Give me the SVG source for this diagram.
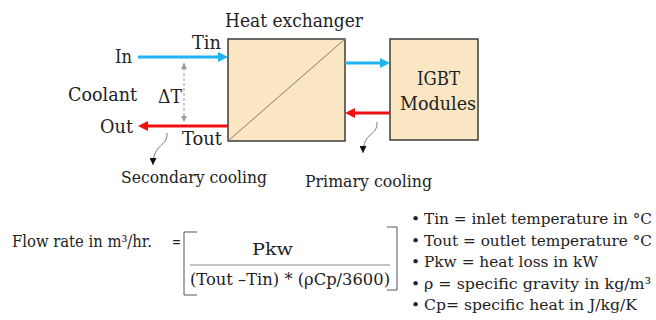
<svg xmlns="http://www.w3.org/2000/svg" width="656" height="320" viewBox="0 0 656 320">
<defs>
<style>
text{font-family:"DejaVu Serif","Liberation Serif",serif;fill:#222;}
.box{fill:#FAE6C3;stroke:#3c3c3c;stroke-width:1.5;}
.blue{stroke:#1FB3F0;stroke-width:3;fill:none;}
.red{stroke:#F01010;stroke-width:3;fill:none;}
.dash{stroke:#9a9a9a;stroke-width:1;stroke-dasharray:3,2;fill:none;}
.curve{stroke:#777;stroke-width:1;fill:none;}
.brk{stroke:#555;stroke-width:1;fill:none;}
.lbl{font-size:18px;}
.sm{font-size:16px;}
.lg{font-size:15.4px;}
</style>
<marker id="hb" markerUnits="userSpaceOnUse" markerWidth="10" markerHeight="10" viewBox="0 0 10 10" refX="0" refY="5" orient="auto"><path d="M0,0 L10,5 L0,10 z" fill="#1FB3F0"/></marker>
<marker id="hr" markerUnits="userSpaceOnUse" markerWidth="10" markerHeight="10" viewBox="0 0 10 10" refX="0" refY="5" orient="auto"><path d="M0,0 L10,5 L0,10 z" fill="#F01010"/></marker>
<marker id="hg" markerUnits="userSpaceOnUse" markerWidth="6" markerHeight="6" viewBox="0 0 10 10" refX="10" refY="5" orient="auto-start-reverse"><path d="M0,0 L10,5 L0,10 z" fill="#9a9a9a"/></marker>
<marker id="hk" markerUnits="userSpaceOnUse" markerWidth="7" markerHeight="7" viewBox="0 0 10 10" refX="10" refY="5" orient="auto"><path d="M0,0 L10,5 L0,10 z" fill="#111"/></marker>
</defs>

<g id="heat-exchanger">
<rect class="box" x="228" y="39" width="117" height="102"/>
<line x1="228" y1="141" x2="345" y2="39" stroke="#8a7a68" stroke-width="1"/>
<text class="lbl" x="225" y="27" textLength="138" lengthAdjust="spacingAndGlyphs">Heat exchanger</text>
</g>

<g id="igbt-modules">
<rect class="box" x="390" y="39" width="88" height="101"/>
<text class="lbl" x="417" y="85" textLength="43" lengthAdjust="spacingAndGlyphs">IGBT</text>
<text class="lbl" x="400" y="110" textLength="76" lengthAdjust="spacingAndGlyphs">Modules</text>
</g>

<g id="labels">
<text class="lbl" x="115" y="63" textLength="17" lengthAdjust="spacingAndGlyphs">In</text>
<text class="lbl" x="192" y="49" textLength="29" lengthAdjust="spacingAndGlyphs">Tin</text>
<text class="lbl" x="68" y="101" textLength="69" lengthAdjust="spacingAndGlyphs">Coolant</text>
<text class="lbl" x="158" y="103" textLength="24" lengthAdjust="spacingAndGlyphs">ΔT</text>
<text class="lbl" x="100" y="133" textLength="33" lengthAdjust="spacingAndGlyphs">Out</text>
<text class="lbl" x="182" y="145" textLength="40" lengthAdjust="spacingAndGlyphs">Tout</text>
<text class="sm" x="121" y="183" textLength="146" lengthAdjust="spacingAndGlyphs">Secondary cooling</text>
<text class="sm" x="305" y="187" textLength="127" lengthAdjust="spacingAndGlyphs">Primary cooling</text>
</g>

<g id="connectors">
<line class="blue" x1="138" y1="57" x2="218" y2="57" marker-end="url(#hb)"/>
<line class="blue" x1="345" y1="63" x2="380" y2="63" marker-end="url(#hb)"/>
<line class="red" x1="390" y1="113" x2="355" y2="113" marker-end="url(#hr)"/>
<line class="red" x1="228" y1="126" x2="148" y2="126" marker-end="url(#hr)"/>
<line class="dash" x1="184" y1="63" x2="184" y2="122" marker-start="url(#hg)" marker-end="url(#hg)"/>
<path class="curve" d="M167,133 C168,147 153,143 153,165" marker-end="url(#hk)"/>
<path class="curve" d="M377,122 C378,136 363,132 363,153" marker-end="url(#hk)"/>
</g>

<g id="formula">
<text class="sm" x="12" y="247" textLength="140" lengthAdjust="spacingAndGlyphs">Flow rate in m³/hr.</text>
<text class="sm" x="172" y="247" textLength="9" lengthAdjust="spacingAndGlyphs">=</text>
<path class="brk" d="M197,232 L184,232 L184,295 L197,295"/>
<path class="brk" d="M387,227 L397,227 L397,290 L387,290"/>
<line x1="190" y1="265" x2="390" y2="265" stroke="#888" stroke-width="1"/>
<text class="sm" x="252" y="255" textLength="41" lengthAdjust="spacingAndGlyphs">Pkw</text>
<text class="sm" x="190" y="285" textLength="200" lengthAdjust="spacingAndGlyphs">(Tout –Tin) * (ρCp/3600)</text>
</g>

<g id="legend">
<text class="lg" x="411" y="224">•</text>
<text class="lg" x="424" y="224" textLength="228" lengthAdjust="spacingAndGlyphs">Tin = inlet temperature in °C</text>
<text class="lg" x="411" y="245.6">•</text>
<text class="lg" x="424" y="245.6" textLength="228" lengthAdjust="spacingAndGlyphs">Tout = outlet temperature °C</text>
<text class="lg" x="411" y="267">•</text>
<text class="lg" x="424" y="267" textLength="174" lengthAdjust="spacingAndGlyphs">Pkw = heat loss in kW</text>
<text class="lg" x="411" y="288.6">•</text>
<text class="lg" x="424" y="288.6" textLength="227" lengthAdjust="spacingAndGlyphs">ρ = specific gravity in kg/m³</text>
<text class="lg" x="411" y="310">•</text>
<text class="lg" x="424" y="310" textLength="213" lengthAdjust="spacingAndGlyphs">Cp= specific heat in J/kg/K</text>
</g>
</svg>
